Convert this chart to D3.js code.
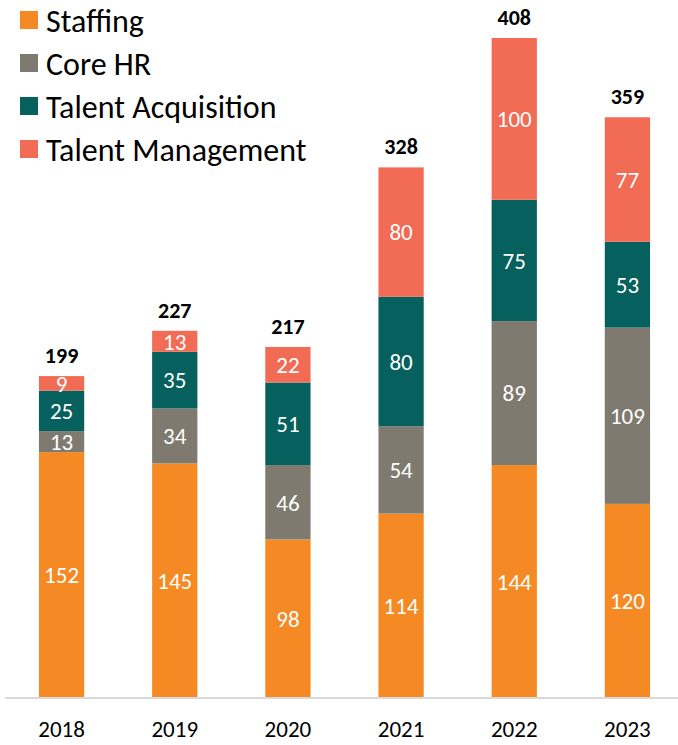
<!DOCTYPE html>
<html>
<head>
<meta charset="utf-8">
<script src="https://cdn.jsdelivr.net/npm/d3@7"></script>
<style>
  body { margin: 0; background: #fff; }
  svg { display: block; font-family: Carlito, Lato, 'Open Sans', sans-serif; }
</style>
</head>
<body>
<div class="chart"></div>
<script>
const years = ['2018', '2019', '2020', '2021', '2022', '2023']
const seriesNames = ['Staffing', 'Core HR', 'Talent Acquisition', 'Talent Management']
const staffing = [152, 145, 98, 114, 144, 120]
const coreHR = [13, 34, 46, 54, 89, 109]
const talentAcq = [25, 35, 51, 80, 75, 53]
const talentMgmt = [9, 13, 22, 80, 100, 77]
const totals = [199, 227, 217, 328, 408, 359]
const colors = ['#f58a25', '#7f7a6f', '#05605e', '#f26b55']

const width = 678
const height = 745
const baseline = 698

let svg = d3.select('.chart')
  .append('svg')
  .attr('width', width)
  .attr('height', height)

let rows = years.map((y, i) => ({
  year: y,
  'Staffing': staffing[i],
  'Core HR': coreHR[i],
  'Talent Acquisition': talentAcq[i],
  'Talent Management': talentMgmt[i],
  total: totals[i]
}))

let x = d3.scaleBand()
  .domain(years)
  .range([5, 684])
  .paddingInner(0.6)
  .paddingOuter(0.3)

let y = d3.scaleLinear()
  .domain([0, 408])
  .range([baseline, 38])

let color = d3.scaleOrdinal(seriesNames, colors)

let stacked = d3.stack().keys(seriesNames)(rows)

let layer = svg.selectAll('g.layer')
  .data(stacked)
  .enter().append('g')
  .attr('class', 'layer')
  .attr('fill', (d) => color(d.key))

layer.selectAll('rect')
  .data((d) => d)
  .enter().append('rect')
  .attr('x', (d) => x(d.data.year))
  .attr('width', x.bandwidth())
  .attr('y', (d) => y(d[1]))
  .attr('height', (d) => y(d[0]) - y(d[1]))

layer.selectAll('text')
  .data((d) => d)
  .enter().append('text')
  .attr('x', (d) => x(d.data.year) + x.bandwidth() / 2)
  .attr('y', (d) => (y(d[0]) + y(d[1])) / 2)
  .attr('dy', '0.36em')
  .attr('text-anchor', 'middle')
  .attr('fill', '#fff')
  .style('font-size', '23px')
  .text((d) => d[1] - d[0])

// totals
svg.selectAll('.total')
  .data(rows)
  .enter().append('text')
  .attr('class', 'total')
  .attr('x', (d) => x(d.year) + x.bandwidth() / 2)
  .attr('y', (d) => y(d.total) - 13)
  .attr('text-anchor', 'middle')
  .style('font-size', '22px')
  .style('font-weight', 'bold')
  .text((d) => d.total)

// axis
let xAxis = svg.append('g')
  .attr('transform', 'translate(0,' + baseline + ')')
  .call(d3.axisBottom(x).tickSize(0).tickPadding(23))
xAxis.select('.domain').attr('stroke', '#d9d9d9').attr('stroke-width', 2)
  .attr('d', 'M5,0H678')
xAxis.selectAll('text').style('font-size', '23px').attr('fill', '#000')
  .style('font-family', 'Carlito, Lato, "Open Sans", sans-serif')

// legend
let legend = svg.selectAll('.legend')
  .data(seriesNames)
  .enter().append('g')
  .attr('class', 'legend')
  .attr('transform', (d, i) => 'translate(20,' + (20 + i * 43) + ')')

legend.append('rect')
  .attr('y', -9)
  .attr('width', 18)
  .attr('height', 18)
  .attr('fill', (d) => color(d))

legend.append('text')
  .attr('x', 26)
  .attr('dy', '0.36em')
  .style('font-size', '32px')
  .text((d) => d)
</script>
</body>
</html>
